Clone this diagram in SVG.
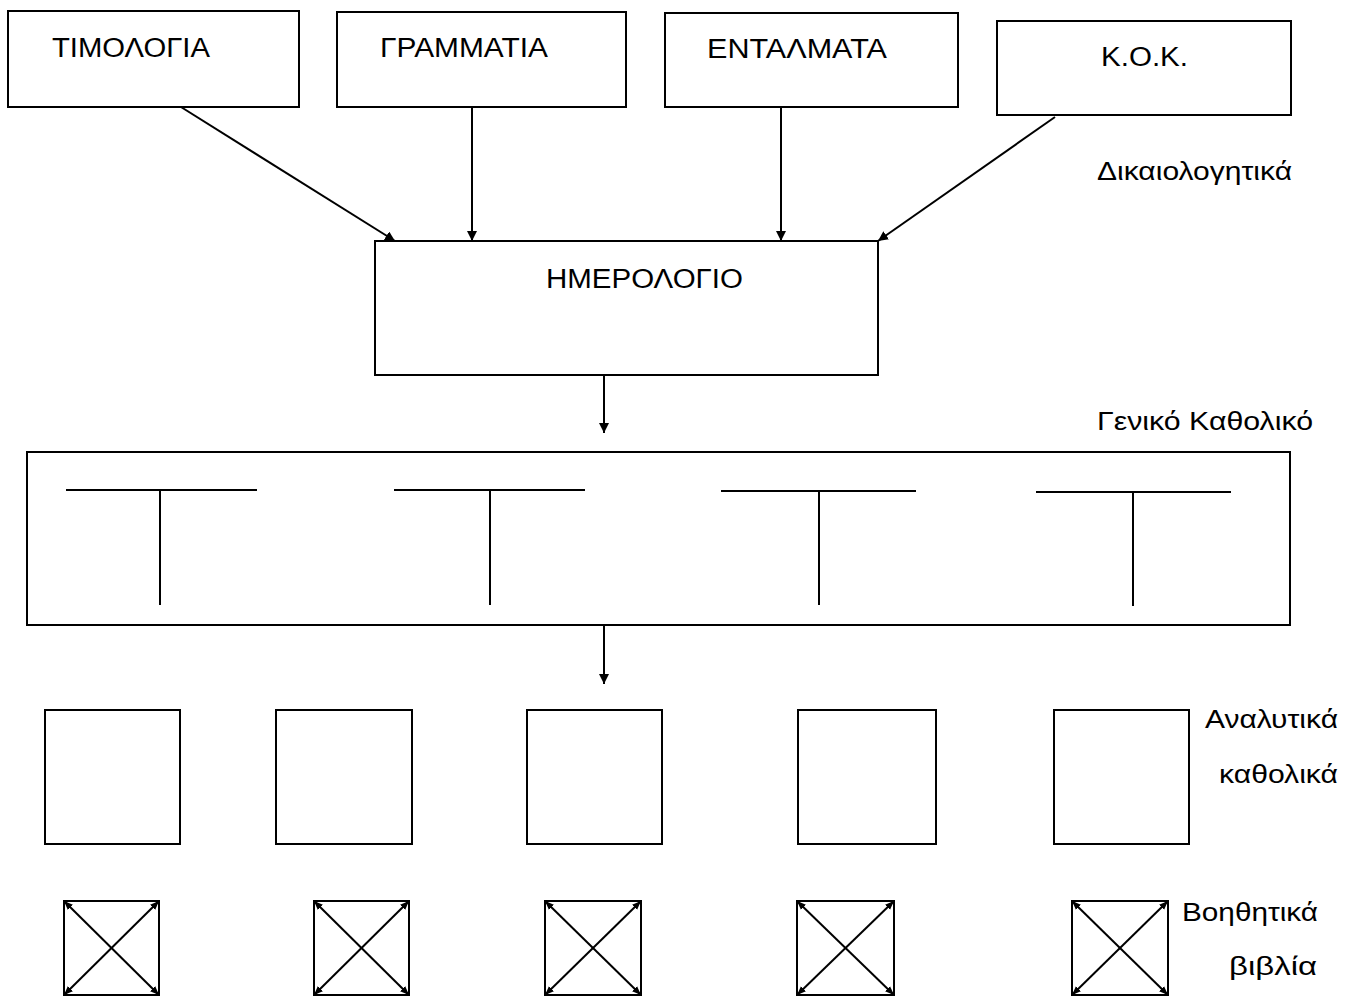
<svg xmlns="http://www.w3.org/2000/svg" width="1353" height="997" viewBox="0 0 1353 997">
<style>
.box{fill:none;stroke:#000;stroke-width:2}
.ln{fill:none;stroke:#000;stroke-width:2}
.x{fill:none;stroke:#000;stroke-width:2;marker-start:url(#cn);marker-end:url(#cn)}
.t{font-family:"Liberation Sans",Arial,sans-serif;font-size:27px;fill:#000}
.l{font-family:"Liberation Sans",Arial,sans-serif;font-size:26px;fill:#000}
</style>
<defs>
<marker id="ah" viewBox="0 0 10 10" refX="10" refY="5" markerWidth="10" markerHeight="10" markerUnits="userSpaceOnUse" orient="auto">
<path d="M0,0 L10,5 L0,10 Z" fill="#000"/>
</marker>
<marker id="cn" viewBox="0 0 10 10" refX="10" refY="5" markerWidth="9" markerHeight="9" markerUnits="userSpaceOnUse" orient="auto-start-reverse">
<path d="M0,1 L10,5 L0,9 Z" fill="#000"/>
</marker>
</defs>
<rect width="1353" height="997" fill="#fff"/>

<g id="timologia"><rect class="box" x="8" y="11" width="291" height="96"/><text class="t" x="52" y="57" textLength="158" lengthAdjust="spacingAndGlyphs">ΤΙΜΟΛΟΓΙΑ</text></g>
<g id="grammatia"><rect class="box" x="337" y="12" width="289" height="95"/><text class="t" x="380" y="57" textLength="168" lengthAdjust="spacingAndGlyphs">ΓΡΑΜΜΑΤΙΑ</text></g>
<g id="entalmata"><rect class="box" x="665" y="13" width="293" height="94"/><text class="t" x="707" y="58" textLength="180" lengthAdjust="spacingAndGlyphs">ΕΝΤΑΛΜΑΤΑ</text></g>
<g id="kok"><rect class="box" x="997" y="21" width="294" height="94"/><text class="t" x="1101" y="66" textLength="87" lengthAdjust="spacingAndGlyphs">Κ.Ο.Κ.</text></g>
<g id="label-dikaiologitika"><text class="l" x="1097" y="180" textLength="195" lengthAdjust="spacingAndGlyphs">Δικαιολογητικά</text></g>

<g id="imerologio"><rect class="box" x="375" y="241" width="503" height="134"/><text class="t" x="546" y="288" textLength="197" lengthAdjust="spacingAndGlyphs">ΗΜΕΡΟΛΟΓΙΟ</text></g>

<g id="label-geniko"><text class="l" x="1097" y="430" textLength="216" lengthAdjust="spacingAndGlyphs">Γενικό Καθολικό</text></g>

<g id="geniko-katholiko">
<rect class="box" x="27" y="452" width="1263" height="173"/>
<path class="ln" d="M66,490 H257 M160,490 V605"/>
<path class="ln" d="M394,490 H585 M490,490 V605"/>
<path class="ln" d="M721,491 H916 M819,491 V605"/>
<path class="ln" d="M1036,492 H1231 M1133,492 V606"/>
</g>

<g id="analytika">
<rect class="box" x="45" y="710" width="135" height="134"/>
<rect class="box" x="276" y="710" width="136" height="134"/>
<rect class="box" x="527" y="710" width="135" height="134"/>
<rect class="box" x="798" y="710" width="138" height="134"/>
<rect class="box" x="1054" y="710" width="135" height="134"/>
</g>
<g id="label-analytika">
<text class="l" x="1205" y="728" textLength="133" lengthAdjust="spacingAndGlyphs">Αναλυτικά</text>
<text class="l" x="1219" y="783" textLength="119" lengthAdjust="spacingAndGlyphs">καθολικά</text>
</g>

<g id="voithitika">
<rect class="box" x="64" y="901" width="95" height="94"/>
<line class="x" x1="64" y1="901" x2="159" y2="995"/><line class="x" x1="159" y1="901" x2="64" y2="995"/>
<rect class="box" x="314" y="901" width="95" height="94"/>
<line class="x" x1="314" y1="901" x2="409" y2="995"/><line class="x" x1="409" y1="901" x2="314" y2="995"/>
<rect class="box" x="545" y="901" width="96" height="94"/>
<line class="x" x1="545" y1="901" x2="641" y2="995"/><line class="x" x1="641" y1="901" x2="545" y2="995"/>
<rect class="box" x="797" y="901" width="97" height="94"/>
<line class="x" x1="797" y1="901" x2="894" y2="995"/><line class="x" x1="894" y1="901" x2="797" y2="995"/>
<rect class="box" x="1072" y="901" width="96" height="94"/>
<line class="x" x1="1072" y1="901" x2="1168" y2="995"/><line class="x" x1="1168" y1="901" x2="1072" y2="995"/>
</g>
<g id="label-voithitika">
<text class="l" x="1182" y="921" textLength="136" lengthAdjust="spacingAndGlyphs">Βοηθητικά</text>
<text class="l" x="1229" y="975" textLength="88" lengthAdjust="spacingAndGlyphs">βιβλία</text>
</g>

<g id="connectors">
<line class="ln" x1="181" y1="107" x2="395" y2="241" marker-end="url(#ah)"/>
<line class="ln" x1="472" y1="107" x2="472" y2="241" marker-end="url(#ah)"/>
<line class="ln" x1="781" y1="107" x2="781" y2="241" marker-end="url(#ah)"/>
<line class="ln" x1="1055" y1="117" x2="878" y2="241" marker-end="url(#ah)"/>
<line class="ln" x1="604" y1="375" x2="604" y2="433" marker-end="url(#ah)"/>
<line class="ln" x1="604" y1="625" x2="604" y2="684" marker-end="url(#ah)"/>
</g>
</svg>
